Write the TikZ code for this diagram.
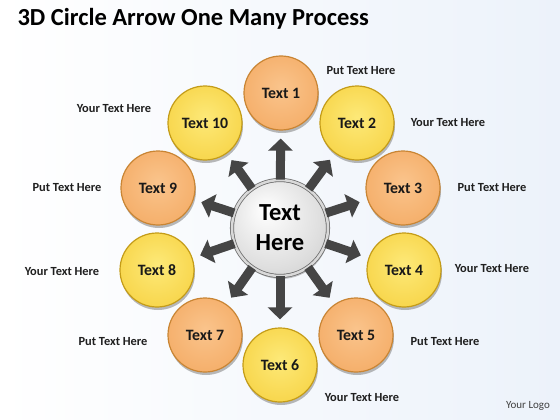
\documentclass[tikz,border=0pt]{standalone}
\usepackage{fontspec}
\setmainfont{Carlito}
\usepackage{tikz}
\usetikzlibrary{shadows}
\usetikzlibrary{arrows.meta,shapes}
\usetikzlibrary{calc}
\definecolor{orlight}{HTML}{FAC48C}
\definecolor{ordark}{HTML}{EE9440}
\definecolor{orrim}{HTML}{C98534}
\definecolor{yelight}{HTML}{FDE978}
\definecolor{yedark}{HTML}{F2C21E}
\definecolor{yerim}{HTML}{C49C18}
\definecolor{hubrim}{HTML}{6E6E6E}
\definecolor{arrowgray}{HTML}{454545}
\definecolor{bgblue}{HTML}{ECF2FA}
\pgfdeclareradialshading{orangeball}{\pgfpoint{0bp}{4bp}}{color(0bp)=(orlight); color(28bp)=(orlight!55!ordark); color(50bp)=(ordark)}
\pgfdeclareradialshading{yellowball}{\pgfpoint{0bp}{4bp}}{color(0bp)=(yelight); color(28bp)=(yelight!50!yedark); color(50bp)=(yedark)}
\pgfdeclareradialshading{hubball}{\pgfpoint{-8bp}{10bp}}{color(0bp)=(white); color(25bp)=(gray!25); color(50bp)=(gray!55)}
\tikzstyle{vertex}=[circle,draw,line width=1.2pt,minimum size=74pt,inner sep=0pt,font=\fontsize{15.8}{16}\selectfont\bfseries,text=black!90,drop shadow={shadow xshift=1pt,shadow yshift=-3pt,opacity=0.55}]
\tikzstyle{oddvertex}=[vertex,shading=orangeball,draw=orrim]
\tikzstyle{evenvertex}=[vertex,shading=yellowball,draw=yerim]
\tikzstyle{hub}=[circle,shading=hubball,draw=hubrim,line width=0.8pt,double=gray!30,double distance=2.5pt,minimum size=96pt,inner sep=0pt,align=center,font=\fontsize{24.5}{30}\selectfont\bfseries,drop shadow={shadow xshift=1pt,shadow yshift=-3pt,opacity=0.45}]
\tikzstyle{blockarrow} = [draw=arrowgray,line width=9pt,-{Triangle[width=24pt,length=12pt]},arrowgray,shorten <=0pt,shorten >=8pt]
\tikzstyle{note} = [font=\fontsize{12.4}{12.4}\selectfont\bfseries,text=black!88]

\begin{document}
\begin{tikzpicture}[x=1pt,y=-1pt]
    % background and title
    \fill[left color=white,right color=bgblue] (0,0) rectangle (560,420);
    \node[anchor=west,font=\fontsize{24.5}{24.5}\selectfont\bfseries] (title) at (14,19) {3D Circle Arrow One Many Process};
    % First we draw the hub and the ring of circles
    \node[hub] (hub) at (280,228) {Text\\Here};
    \foreach \pos/\name/\label in {{(281,93)/t1/Text 1}, {(403,188)/t3/Text 3},
    {(356,335)/t5/Text 5}, {(205,335)/t7/Text 7}, {(158,188)/t9/Text 9}}
        \node[oddvertex] (\name) at \pos {\label};
    \foreach \pos/\name/\label in {{(357,123)/t2/Text 2}, {(404,270)/t4/Text 4},
    {(280,365)/t6/Text 6}, {(157,270)/t8/Text 8}, {(205,123)/t10/Text 10}}
        \node[evenvertex] (\name) at \pos {\label};

    % Then the arrows from the hub
    \foreach \dest in {t1,t2,t3,t4,t5,t6,t7,t8,t9,t10}
        \path[blockarrow] (hub) -- (\dest);

    % Side texts
    \foreach \pos/\name/\label in {{(361,71)/n1/Put Text Here}, {(448,123)/n2/Your Text Here},
    {(492,188)/n3/Put Text Here}, {(492,269)/n4/Your Text Here},
    {(445,342)/n5/Put Text Here}, {(362,398)/n6/Your Text Here},
    {(113,342)/n7/Put Text Here}, {(62,272)/n8/Your Text Here},
    {(67,188)/n9/Put Text Here}, {(114,109)/n10/Your Text Here}}
        \node[note] (\name) at \pos {\label};
    \node[font=\fontsize{11}{11}\selectfont,text=black!75] (logo) at (528,406) {Your Logo};
\end{tikzpicture}
\end{document}
